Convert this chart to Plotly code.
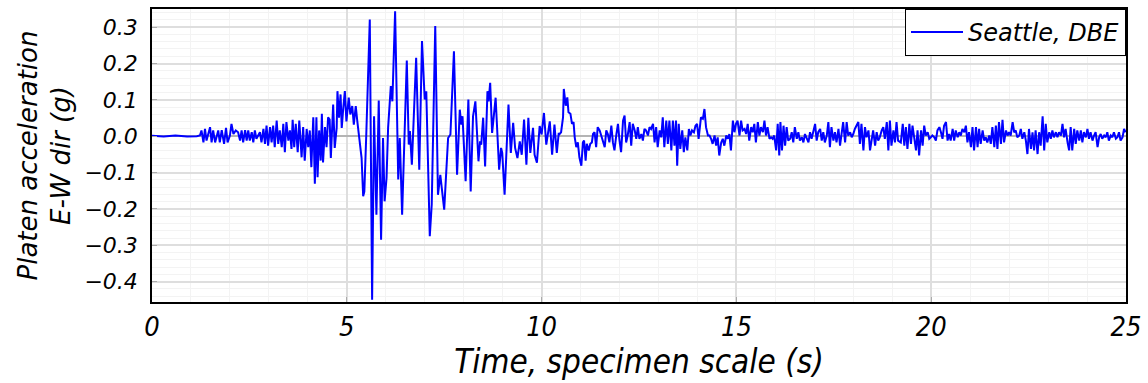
import plotly.graph_objects as go

# ---- data (time in s, acceleration in g) ----
t_pre = [0.0, 0.3, 0.6, 0.9, 1.15]
a_pre = [0.001, -0.001, 0.002, -0.001, 0.0]

t_build = [1.23, 1.27, 1.32, 1.36, 1.40, 1.49, 1.53, 1.57, 1.62, 1.70, 1.74, 1.79, 1.85, 1.90, 1.94,
           2.00, 2.04, 2.09, 2.15, 2.21, 2.26, 2.30, 2.34, 2.39, 2.43, 2.47, 2.51, 2.56, 2.60, 2.64,
           2.68, 2.77, 2.81, 2.86, 2.90, 2.94, 2.98, 3.03, 3.07, 3.11, 3.15, 3.20, 3.24, 3.28, 3.33,
           3.37, 3.41, 3.45, 3.50, 3.54, 3.58, 3.61, 3.65, 3.69, 3.74, 3.78, 3.84, 3.88, 3.92, 3.97,
           4.01, 4.05, 4.09, 4.14, 4.18, 4.22, 4.25, 4.29, 4.33, 4.36, 4.39, 4.44, 4.48, 4.52]
a_build = [0.002, 0.016, -0.017, 0.020, -0.012, 0.025, -0.017, 0.016, -0.017, 0.016, -0.017, 0.017, -0.021, 0.023, -0.017,
           0.002, 0.034, 0.006, 0.016, 0.011, -0.012, 0.016, -0.017, 0.017, -0.012, 0.016, -0.012, 0.011, -0.017, 0.016,
           -0.007, 0.011, -0.017, 0.020, -0.021, 0.029, -0.026, 0.025, -0.017, 0.029, -0.030, 0.043, -0.021, 0.016, -0.030,
           0.034, -0.044, 0.039, -0.012, 0.016, -0.035, 0.045, -0.030, 0.034, -0.044, 0.043, -0.058, 0.025, -0.067, 0.020,
           -0.030, 0.016, -0.085, 0.052, -0.131, 0.052, -0.113, 0.016, -0.067, 0.062, -0.072, 0.025, -0.030, 0.052]

t_strong = [4.56, 4.59, 4.62, 4.65, 4.69, 4.74, 4.76, 4.80, 4.84, 4.87, 4.91, 4.95, 4.99, 5.05, 5.09,
            5.14, 5.18, 5.23, 5.27, 5.31, 5.38, 5.42, 5.45, 5.50, 5.59, 5.65, 5.70, 5.76, 5.82, 5.88,
            5.93, 5.97, 6.02, 6.06, 6.13, 6.17, 6.24, 6.32, 6.36, 6.42, 6.54, 6.59, 6.62, 6.67, 6.78,
            6.86, 6.93, 7.00, 7.04, 7.13, 7.18, 7.27, 7.34, 7.40, 7.50, 7.60, 7.66, 7.75, 7.83, 7.90,
            7.94, 7.97, 8.05, 8.12, 8.18, 8.24, 8.30, 8.38, 8.42, 8.45, 8.50, 8.55, 8.61, 8.64, 8.68,
            8.73, 8.82, 8.91, 8.96, 8.99, 9.05, 9.15, 9.21, 9.27, 9.32, 9.38, 9.44, 9.49, 9.55, 9.61,
            9.66, 9.71, 9.78, 9.82, 9.88, 9.95, 10.00, 10.06, 10.12, 10.21, 10.27, 10.33, 10.39, 10.44]
a_strong = [0.046, -0.060, 0.032, 0.087, -0.032, 0.023, 0.124, 0.051, 0.115, 0.023, 0.078, 0.124, 0.041, 0.106, 0.060,
            0.083, 0.032, 0.083, 0.041, 0.000, -0.060, -0.165, -0.152, 0.005, 0.321, -0.450, 0.055, -0.216, 0.098, -0.285,
            -0.005, -0.179, -0.115, 0.023, 0.138, 0.096, 0.344, -0.119, -0.005, -0.216, 0.208, -0.023, 0.014, -0.078, 0.216,
            -0.092, 0.262, 0.101, 0.124, -0.275, -0.188, 0.303, -0.161, -0.106, -0.202, -0.005, 0.005, 0.234, -0.106, 0.073,
            0.032, 0.055, -0.124, 0.101, -0.152, 0.055, 0.096, -0.069, -0.014, -0.023, 0.051, -0.083, 0.124, 0.096, 0.147,
            0.009, 0.106, -0.092, -0.032, -0.046, -0.161, 0.087, -0.046, 0.037, -0.032, -0.060, -0.014, -0.051, 0.046, -0.078,
            0.051, -0.046, 0.023, -0.051, -0.073, 0.028, 0.005, 0.064, -0.023, 0.041, -0.051, 0.032, -0.046, 0.009]

t_coda1 = [10.46, 10.50, 10.55, 10.57, 10.62, 10.66, 10.69, 10.74, 10.78, 10.82, 10.85, 10.89, 10.93, 10.97, 11.02,
           11.06, 11.09, 11.13, 11.16, 11.21, 11.25, 11.29, 11.32, 11.36, 11.40, 11.44, 11.49, 11.53, 11.57, 11.62,
           11.66, 11.70, 11.74, 11.79, 11.83, 11.87, 11.92, 11.96, 12.00, 12.04, 12.09, 12.13, 12.17, 12.21, 12.26,
           12.30, 12.34, 12.39, 12.43, 12.47, 12.51, 12.56, 12.60, 12.64, 12.68, 12.73, 12.77, 12.81, 12.86, 12.90,
           12.94, 12.98, 13.03, 13.07, 13.11, 13.15, 13.20, 13.24, 13.28, 13.33, 13.37, 13.41, 13.45, 13.48, 13.52,
           13.56, 13.61, 13.65, 13.69, 13.74, 13.78, 13.82, 13.86, 13.91, 13.95, 13.99, 14.03, 14.09, 14.14, 14.18,
           14.22, 14.27, 14.31, 14.35, 14.39, 14.44, 14.48, 14.52, 14.56, 14.61, 14.65, 14.69, 14.74, 14.78, 14.82,
           14.86, 14.91, 14.95, 14.99, 15.03, 15.08, 15.12, 15.16, 15.21, 15.25, 15.29]
a_coda1 = [0.006, 0.011, 0.052, 0.130, 0.084, 0.107, 0.066, 0.062, 0.034, 0.039, -0.003, -0.030, -0.017, -0.058, -0.081,
           -0.017, -0.012, -0.067, -0.021, -0.039, -0.021, -0.017, 0.006, 0.011, -0.030, 0.025, 0.016, 0.002, -0.012, -0.030,
           0.016, 0.006, -0.017, 0.029, -0.017, -0.039, 0.006, 0.034, -0.012, -0.044, 0.043, 0.057, -0.017, 0.002, 0.039,
           -0.026, 0.034, 0.016, -0.007, 0.025, -0.007, 0.006, -0.012, 0.020, 0.016, 0.002, 0.025, 0.020, 0.034, -0.017,
           0.025, -0.030, 0.016, -0.003, 0.052, -0.030, 0.043, -0.021, 0.043, -0.039, 0.043, -0.026, 0.043, -0.081, 0.034,
           -0.035, 0.016, -0.044, -0.003, -0.039, 0.020, 0.002, 0.016, 0.011, 0.029, 0.034, -0.007, 0.052, 0.048, 0.075,
           0.025, 0.002, 0.002, -0.007, -0.021, 0.002, -0.026, -0.003, -0.053, -0.017, -0.007, -0.026, 0.002, -0.007, 0.006,
           -0.039, 0.043, 0.011, 0.034, 0.043, 0.002, 0.043, 0.016, 0.020, 0.006, 0.034]

t_coda2 = [15.33, 15.38, 15.42, 15.46, 15.50, 15.55, 15.59, 15.63, 15.68, 15.72, 15.76, 15.80, 15.85, 15.89, 15.93,
           15.97, 16.02, 16.06, 16.10, 16.13, 16.17, 16.21, 16.25, 16.29, 16.33, 16.38, 16.42, 16.46, 16.50, 16.55,
           16.59, 16.63, 16.68, 16.72, 16.76, 16.80, 16.85, 16.89, 16.93, 16.97, 17.02, 17.06, 17.10, 17.15, 17.19,
           17.23, 17.27, 17.32, 17.36, 17.40, 17.44, 17.49, 17.53, 17.57, 17.62, 17.66, 17.70, 17.74, 17.79, 17.83,
           17.87, 17.92, 17.96, 18.00, 18.04, 18.09, 18.13, 18.17, 18.21, 18.26, 18.30, 18.34, 18.39, 18.43, 18.47,
           18.51, 18.56, 18.60, 18.64, 18.68, 18.73, 18.77, 18.81, 18.86, 18.90, 18.94, 18.98, 19.03, 19.07, 19.11,
           19.15, 19.22, 19.27, 19.31, 19.35, 19.39, 19.44, 19.48, 19.52, 19.56, 19.61, 19.65, 19.69, 19.74, 19.78,
           19.82, 19.86, 19.91, 19.95, 19.99, 20.03, 20.08, 20.12, 20.16, 20.21, 20.25, 20.29, 20.33, 20.38, 20.42]
a_coda2 = [-0.012, 0.025, 0.011, 0.034, -0.017, 0.039, 0.002, 0.025, 0.011, 0.043, 0.002, 0.025, -0.007, -0.003, -0.007,
           0.002, -0.039, 0.034, -0.053, 0.039, -0.039, 0.029, -0.026, 0.025, -0.012, -0.007, 0.011, -0.017, 0.025, -0.007,
           0.011, -0.012, -0.003, -0.017, 0.006, -0.007, -0.017, 0.011, -0.007, 0.011, 0.034, -0.012, 0.011, 0.020, -0.012,
           0.011, -0.017, 0.002, 0.039, -0.030, 0.025, -0.012, 0.011, -0.017, 0.020, -0.026, 0.006, 0.039, -0.017, 0.039,
           0.002, 0.011, -0.003, 0.006, 0.020, 0.029, 0.039, -0.021, 0.034, -0.039, 0.025, -0.003, 0.016, -0.039, -0.007,
           0.016, -0.026, 0.011, -0.012, -0.003, 0.016, 0.025, -0.007, 0.039, -0.039, 0.043, -0.026, 0.016, -0.017, 0.039,
           -0.012, -0.017, 0.034, -0.026, 0.025, -0.035, 0.034, -0.021, 0.029, 0.002, -0.039, 0.016, -0.053, 0.016, -0.026,
           0.029, 0.002, 0.011, -0.007, -0.003, 0.002, -0.003, -0.012, 0.016, 0.025, 0.011, -0.007, 0.029, 0.039, -0.012]

t_coda3 = [20.46, 20.50, 20.55, 20.59, 20.63, 20.68, 20.72, 20.76, 20.80, 20.85, 20.89, 20.93, 20.97, 21.02, 21.06,
           21.10, 21.15, 21.19, 21.23, 21.27, 21.32, 21.36, 21.40, 21.44, 21.49, 21.53, 21.57, 21.62, 21.66, 21.70,
           21.74, 21.79, 21.83, 21.87, 21.92, 21.96, 22.00, 22.04, 22.09, 22.13, 22.17, 22.21, 22.26, 22.30, 22.34,
           22.39, 22.43, 22.47, 22.51, 22.56, 22.60, 22.64, 22.68, 22.73, 22.77, 22.81, 22.86, 22.90, 22.94, 22.98,
           23.03, 23.07, 23.11, 23.15, 23.20, 23.24, 23.28, 23.33, 23.37, 23.41, 23.45, 23.50, 23.54, 23.58, 23.62,
           23.67, 23.71, 23.75, 23.80, 23.84, 23.88, 23.92, 23.97, 24.01, 24.05, 24.09, 24.14, 24.18, 24.22, 24.27,
           24.31, 24.35, 24.39, 24.44, 24.48, 24.52, 24.56, 24.61, 24.65, 24.69, 24.74, 24.78, 24.82, 24.86, 24.91,
           24.95, 24.99]
a_coda3 = [0.006, -0.012, 0.020, -0.012, 0.016, -0.003, 0.011, 0.002, 0.020, 0.011, 0.029, -0.017, 0.011, -0.030, 0.025,
           -0.039, 0.025, -0.030, 0.020, -0.021, 0.016, -0.012, -0.003, -0.017, 0.002, -0.021, 0.025, -0.030, 0.029, -0.035,
           0.039, -0.021, 0.045, -0.017, 0.016, 0.002, 0.011, 0.002, 0.039, 0.011, 0.016, -0.003, 0.002, 0.020, -0.007,
           0.011, -0.012, -0.049, 0.020, -0.035, 0.011, -0.039, 0.016, -0.049, 0.011, -0.026, 0.055, -0.039, 0.034, -0.017,
           0.011, -0.007, 0.016, -0.003, 0.011, -0.003, 0.011, 0.002, 0.034, -0.003, 0.020, -0.017, -0.039, 0.025, -0.039,
           0.020, -0.021, 0.016, -0.012, 0.016, -0.017, 0.011, -0.003, 0.020, -0.007, 0.011, -0.012, 0.002, 0.011, -0.030,
           -0.003, 0.006, -0.007, 0.002, -0.003, 0.011, -0.012, 0.002, -0.003, 0.011, -0.007, -0.003, 0.011, -0.012, -0.003,
           0.020, 0.011]

series_name = "Seattle, DBE"
x_title = "Time, specimen scale (s)"
y_title = "Platen acceleration<br>E-W dir (g)"
x_ticks = [0, 5, 10, 15, 20, 25]
y_ticks = [-0.4, -0.3, -0.2, -0.1, 0.0, 0.1, 0.2, 0.3]

time_s = t_pre + t_build + t_strong + t_coda1 + t_coda2 + t_coda3
accel_g = a_pre + a_build + a_strong + a_coda1 + a_coda2 + a_coda3

NARROW = "DejaVu Sans Condensed, Roboto, Open Sans"
WIDE = "DejaVu Sans, Verdana, sans-serif"

fig = go.Figure()
fig.add_trace(go.Scatter(x=time_s, y=accel_g, mode="lines", name=series_name,
                         line=dict(color="#0000ff", width=2)))

fig.update_layout(
    width=1148, height=383,
    margin=dict(l=152, r=21, t=7, b=81),
    paper_bgcolor="white", plot_bgcolor="white",
    showlegend=True,
    legend=dict(x=1, y=1, xanchor="right", yanchor="top",
                bgcolor="white", bordercolor="black", borderwidth=1,
                font=dict(family=WIDE, size=24, color="black", style="italic"),
                itemwidth=52, tracegroupgap=0),
)

fig.update_xaxes(
    range=[0, 25], tickvals=x_ticks, ticktext=[str(v) for v in x_ticks],
    showline=True, linecolor="black", linewidth=1.5, mirror=True,
    ticks="inside", ticklen=5, tickcolor="#aaaaaa",
    showgrid=True, gridcolor="#dedede", gridwidth=1.5,
    minor=dict(dtick=1, showgrid=True, gridcolor="#f3f3f3", gridwidth=1),
    zeroline=False,
    tickfont=dict(family=NARROW, size=27, color="black", style="italic"),
    title=dict(text=x_title, standoff=6,
               font=dict(family=NARROW, size=33, color="black", style="italic")),
)
fig.update_yaxes(
    range=[-0.456, 0.350], tickvals=y_ticks, tickformat=".1f",
    showline=True, linecolor="black", linewidth=1.5, mirror=True,
    ticks="inside", ticklen=5, tickcolor="#aaaaaa",
    showgrid=True, gridcolor="#dedede", gridwidth=1.5,
    minor=dict(dtick=0.02, tick0=0, showgrid=True, gridcolor="#f3f3f3", gridwidth=1),
    zeroline=True, zerolinecolor="#b4b4b4", zerolinewidth=2,
    ticklabelstandoff=8,
    tickfont=dict(family=WIDE, size=22, color="black", style="italic"),
    title=dict(text=y_title, standoff=6,
               font=dict(family=WIDE, size=26, color="black", style="italic")),
)

fig.write_html("out.html")
